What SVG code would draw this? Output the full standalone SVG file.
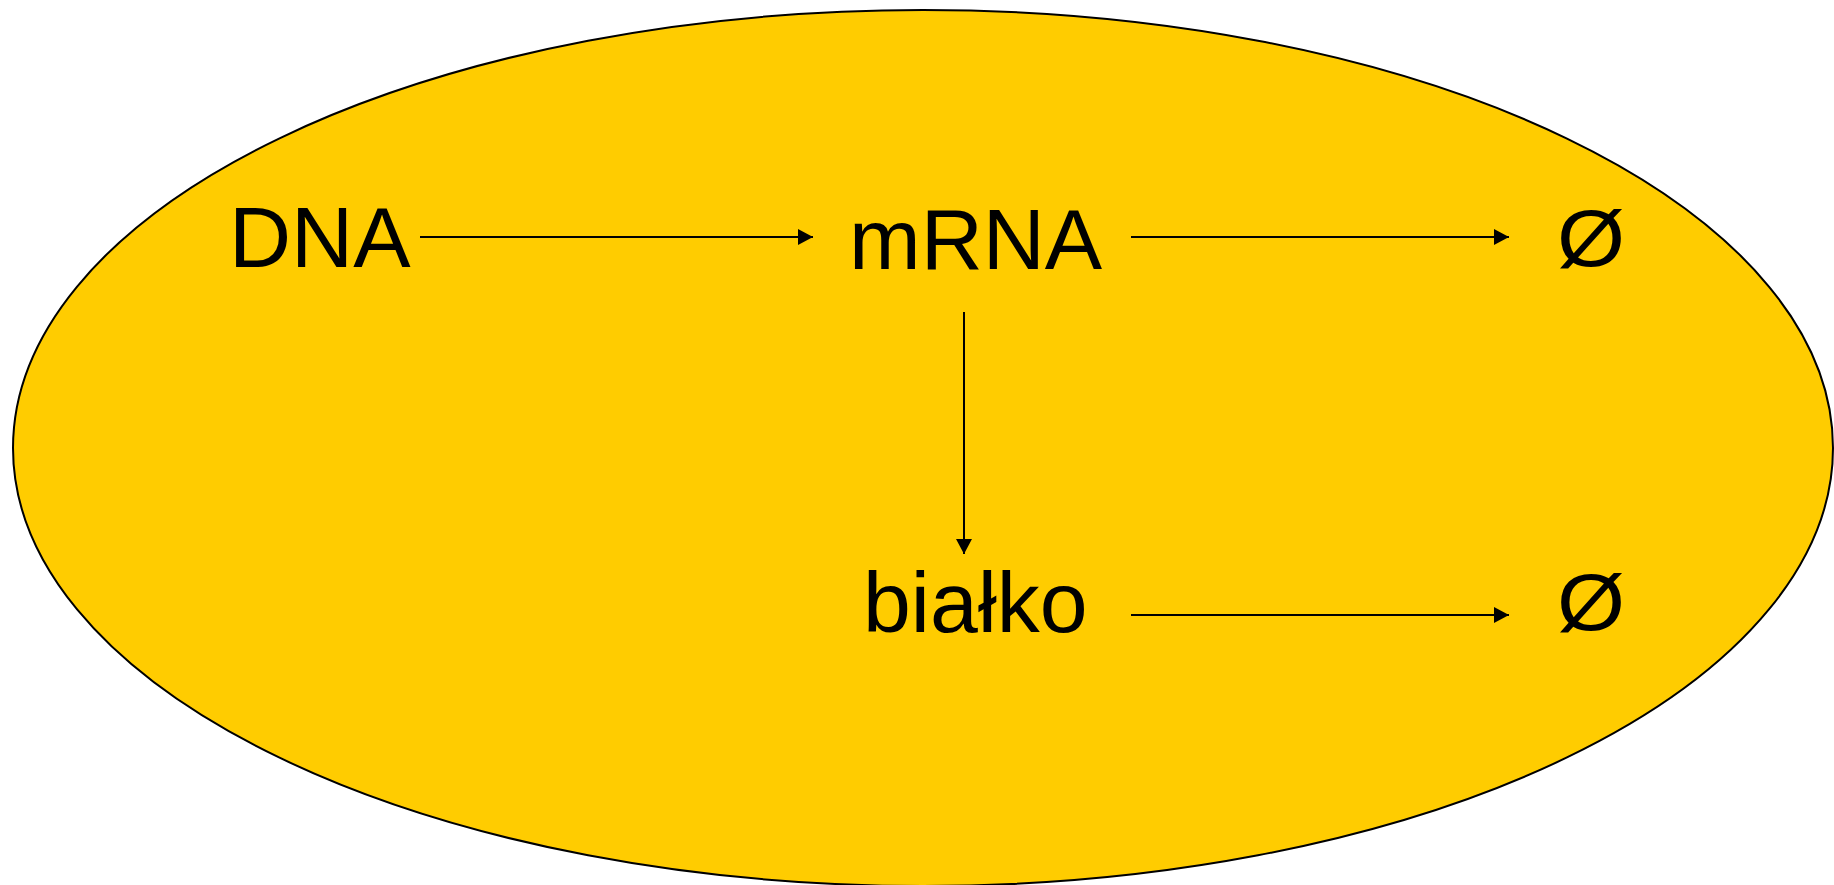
<svg xmlns="http://www.w3.org/2000/svg" width="1834" height="885" viewBox="0 0 1834 885">
<style>
.lbl{font-family:"Liberation Sans",Arial,sans-serif;font-size:86px;fill:#000}
.sym{font-family:"Liberation Sans",Arial,sans-serif;font-size:80px;fill:#000}
.conn{stroke:#000;stroke-width:2;fill:none}
</style>
<defs>
<marker id="arr" markerUnits="userSpaceOnUse" markerWidth="16" markerHeight="17" refX="15" refY="8" orient="auto">
<path d="M0,0 L15,8 L0,16 z" fill="#000"/>
</marker>
</defs>
<g id="cell">
<ellipse cx="923" cy="448" rx="910" ry="438" fill="#FFCC00" stroke="#000" stroke-width="2"/>
</g>
<g id="dna"><text class="lbl" x="229" y="267">DNA</text></g>
<g id="mrna"><text class="lbl" x="849" y="269">mRNA</text></g>
<g id="protein"><text class="lbl" x="863" y="632">białko</text></g>
<g id="null1"><text class="sym" x="1557" y="266" textLength="68" lengthAdjust="spacingAndGlyphs">Ø</text></g>
<g id="null2"><text class="sym" x="1557" y="630" textLength="68" lengthAdjust="spacingAndGlyphs">Ø</text></g>
<g id="connectors">
<line class="conn" x1="420" y1="237" x2="813" y2="237" marker-end="url(#arr)"/>
<line class="conn" x1="1131" y1="237" x2="1509" y2="237" marker-end="url(#arr)"/>
<line class="conn" x1="964" y1="312" x2="964" y2="554" marker-end="url(#arr)"/>
<line class="conn" x1="1131" y1="615" x2="1509" y2="615" marker-end="url(#arr)"/>
</g>
</svg>
